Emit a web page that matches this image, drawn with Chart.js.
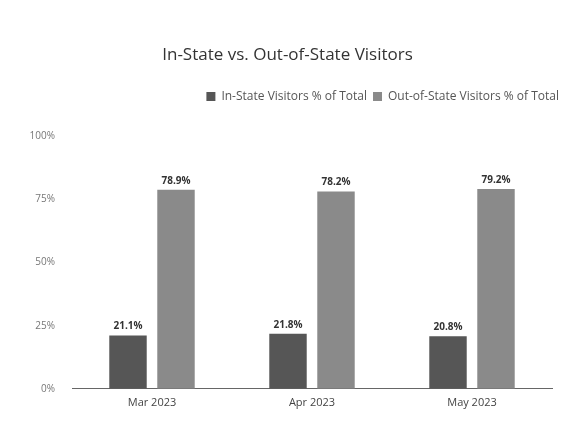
<!DOCTYPE html>
<html>
<head>
<meta charset="utf-8">
<title>In-State vs. Out-of-State Visitors</title>
<script src="https://cdn.jsdelivr.net/npm/chart.js@4.4.1/dist/chart.umd.min.js"></script>
<style>
  html, body { margin: 0; padding: 0; background: #fff; }
  #wrap { width: 565px; height: 438px; }
</style>
</head>
<body>
<div id="wrap"><canvas id="visitorsChart" width="565" height="438"></canvas></div>
<script>
// Values
const months = ['Mar 2023', 'Apr 2023', 'May 2023'];
const inStatePct = [21.1, 21.8, 20.8];
const outStatePct = [78.9, 78.2, 79.2];
const yTicks = [0, 25, 50, 75, 100];

Chart.defaults.font.family = '"Open Sans", "Noto Sans", sans-serif';

// Draw the % value above each bar (no datalabels plugin available offline)
const barValueLabels = {
  id: 'barValueLabels',
  afterDatasetsDraw(chart) {
    const ctx = chart.ctx;
    ctx.save();
    ctx.font = 'bold 10px "Open Sans", sans-serif';
    ctx.fillStyle = '#333';
    ctx.textAlign = 'center';
    ctx.textBaseline = 'bottom';
    chart.data.datasets.forEach((ds, i) => {
      chart.getDatasetMeta(i).data.forEach((bar, j) => {
        ctx.fillText(ds.data[j].toFixed(1) + '%', bar.x, bar.y - 4);
      });
    });
    ctx.restore();
  }
};

// Extra room between legend and plot
const legendSpacer = {
  id: 'legendSpacer',
  beforeInit(chart) {
    const origFit = chart.legend.fit;
    chart.legend.fit = function () {
      origFit.bind(chart.legend)();
      this.height += 24;
    };
  }
};

const ctx = document.getElementById('visitorsChart').getContext('2d');
const visitorsChart = new Chart(ctx, {
  type: 'bar',
  data: {
    labels: months,
    datasets: [{
      label: 'In-State Visitors % of Total',
      data: inStatePct,
      backgroundColor: '#565656',
      categoryPercentage: 0.6,
      barPercentage: 0.78
    }, {
      label: 'Out-of-State Visitors % of Total',
      data: outStatePct,
      backgroundColor: '#8a8a8a',
      categoryPercentage: 0.6,
      barPercentage: 0.78
    }]
  },
  options: {
    responsive: false,
    animation: false,
    layout: { padding: { top: 10, left: 10, right: 0, bottom: 22 } },
    plugins: {
      title: {
        display: true,
        text: 'In-State vs. Out-of-State Visitors',
        color: '#333',
        font: { size: 17, weight: 'normal' },
        padding: { top: 35, bottom: 19 }
      },
      legend: {
        align: 'end',
        labels: {
          color: '#555',
          font: { size: 12 },
          boxWidth: 9,
          boxHeight: 9,
          padding: 6
        }
      },
      tooltip: { enabled: false }
    },
    scales: {
      x: {
        grid: { display: false, drawTicks: false },
        border: { display: true, color: '#666', width: 1 },
        ticks: { color: '#444', font: { size: 11 }, padding: 7 }
      },
      y: {
        min: 0,
        max: 100,
        afterBuildTicks(scale) {
          scale.ticks = yTicks.map(v => ({ value: v }));
        },
        afterFit(scale) { scale.width = 62; },
        grid: { display: false },
        border: { display: false },
        ticks: {
          color: '#777',
          font: { size: 10 },
          padding: 9,
          callback: v => v + '%'
        }
      },
      // empty right-hand margin so the legend can reach the edge
      yRight: {
        position: 'right',
        min: 0,
        max: 100,
        afterFit(scale) { scale.width = 13; },
        grid: { display: false },
        border: { display: false },
        ticks: { display: false }
      }
    }
  },
  plugins: [barValueLabels, legendSpacer]
});
</script>
</body>
</html>
